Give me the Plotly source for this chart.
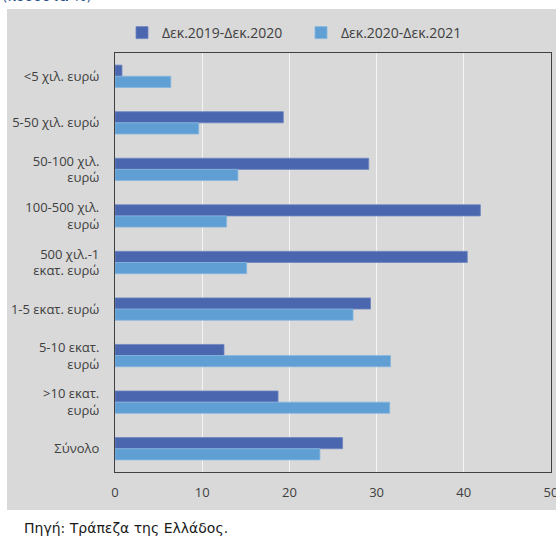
import plotly.graph_objects as go

categories = ["<5 χιλ. ευρώ", "5-50 χιλ. ευρώ", "50-100 χιλ.<br>ευρώ", "100-500 χιλ.<br>ευρώ",
              "500 χιλ.-1<br>εκατ. ευρώ", "1-5 εκατ. ευρώ", "5-10 εκατ.<br>ευρώ",
              ">10 εκατ.<br>ευρώ", "Σύνολο"]
series_names = ["Δεκ.2019-Δεκ.2020", "Δεκ.2020-Δεκ.2021"]
values_2020 = [0.8, 19.3, 29.1, 41.9, 40.4, 29.3, 12.5, 18.7, 26.1]
values_2021 = [6.4, 9.6, 14.1, 12.8, 15.1, 27.3, 31.6, 31.5, 23.5]
x_ticks = [0, 10, 20, 30, 40, 50]

W, H = 556, 540
L, R, T, B = 115, 5, 53, 68
pw, ph = W - L - R, H - T - B

def px(x):
    return (x - L) / pw

def py(y):
    return (H - B - y) / ph

GRAY = "#d9d9d9"
TXT = "#404040"
FONT = "Open Sans, Noto Sans, sans-serif"

fig = go.Figure()
fig.add_trace(go.Bar(y=categories, x=values_2020, name=series_names[0], orientation="h",
                     marker=dict(color="#4a66ae", line=dict(color="#6f86c0", width=0.8))))
fig.add_trace(go.Bar(y=categories, x=values_2021, name=series_names[1], orientation="h",
                     marker=dict(color="#5f9fd4", line=dict(color="#86b6e0", width=0.8))))

fig.update_layout(
    width=W, height=H,
    margin=dict(l=L, r=R, t=T, b=B, autoexpand=False),
    paper_bgcolor="white",
    plot_bgcolor=GRAY,
    barmode="group",
    bargap=0.52,
    bargroupgap=0,
    font=dict(family=FONT, size=13, color=TXT),
    showlegend=True,
    legend=dict(orientation="h", x=px(122), xanchor="left", y=py(33), yanchor="middle",
                font=dict(family=FONT, size=14, color=TXT), bgcolor="rgba(0,0,0,0)",
                itemwidth=30, entrywidth=134, traceorder="normal"),
    xaxis=dict(range=[0, 50], tickvals=x_ticks, showgrid=True, gridcolor="#f4f4f4", gridwidth=1,
               showline=True, linecolor="#404040", linewidth=1.2, mirror=True,
               zeroline=False, ticks="", ticklabelstandoff=8, automargin=False,
               ticklabeloverflow="allow",
               tickfont=dict(family=FONT, size=13, color=TXT), fixedrange=True),
    yaxis=dict(autorange="reversed", showgrid=False, showline=True, linecolor="#404040",
               linewidth=1.2, mirror=True, ticks="", ticklabelstandoff=12, automargin=False,
               tickfont=dict(family=FONT, size=13, color=TXT), fixedrange=True),
    shapes=[dict(type="rect", xref="paper", yref="paper", layer="below",
                 x0=px(7), x1=px(557), y0=py(510), y1=py(9),
                 fillcolor=GRAY, line=dict(width=0))],
    annotations=[
        dict(text="Πηγή: Τράπεζα της Ελλάδος.", xref="paper", yref="paper",
             x=px(22), y=py(528), xanchor="left", yanchor="middle", showarrow=False,
             font=dict(family="DejaVu Sans", size=14, color="#1a1a1a")),
        dict(text="(ποσοστά %)", xref="paper", yref="paper",
             x=px(0), y=py(6), xanchor="left", yanchor="bottom", showarrow=False,
             font=dict(family="DejaVu Sans", size=14, color="#1f4e8c")),
    ],
)

fig.write_html("out.html", config={"displayModeBar": False},
               post_script="document.body.style.margin='0';")
